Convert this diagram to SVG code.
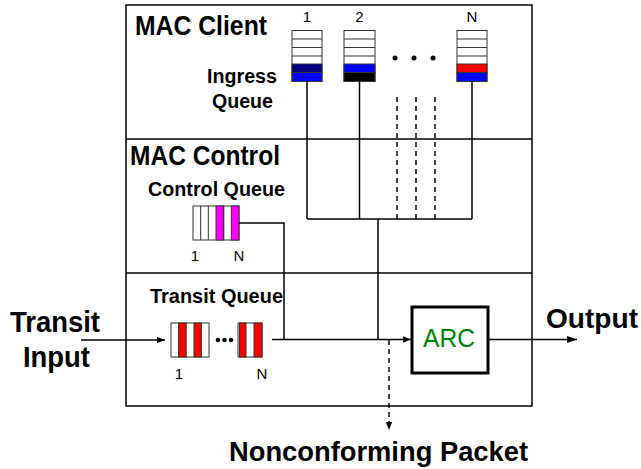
<svg xmlns="http://www.w3.org/2000/svg" width="641" height="469" viewBox="0 0 641 469">
<style>
.ln{stroke:#000;stroke-width:1.5;fill:none}
.ds{stroke:#000;stroke-width:1.5;fill:none;stroke-dasharray:5,4}
.q{stroke:#333;stroke-width:1}
.b{font-family:"Liberation Sans",Arial,sans-serif;font-weight:bold;fill:#000}
.n{font-family:"Liberation Sans",Arial,sans-serif;fill:#000}
</style>
<defs>
<marker id="ah" viewBox="0 0 10 10" refX="10" refY="5" markerWidth="8" markerHeight="8" markerUnits="userSpaceOnUse" orient="auto"><path d="M0,1 L10,5 L0,9 z" fill="#000"/></marker>
<marker id="ahb" viewBox="0 0 10 10" refX="10" refY="5" markerWidth="10" markerHeight="10" markerUnits="userSpaceOnUse" orient="auto"><path d="M0,1.5 L10,5 L0,8.5 z" fill="#000"/></marker>
</defs>
<rect width="641" height="469" fill="#fff"/>

<g id="frame">
<rect x="126" y="5" width="406" height="401" fill="none" stroke="#000" stroke-width="1.5"/>
<line x1="126" y1="139" x2="532" y2="139" class="ln"/>
<line x1="126" y1="273" x2="532" y2="273" class="ln"/>
</g>

<g id="labels">
<text x="135" y="35" class="b" font-size="27.5" textLength="132" lengthAdjust="spacingAndGlyphs">MAC Client</text>
<text x="207" y="83" class="b" font-size="19.5" textLength="70" lengthAdjust="spacingAndGlyphs">Ingress</text>
<text x="212" y="108" class="b" font-size="19.5" textLength="61" lengthAdjust="spacingAndGlyphs">Queue</text>
<text x="130" y="165" class="b" font-size="27.5" textLength="150" lengthAdjust="spacingAndGlyphs">MAC Control</text>
<text x="148" y="196" class="b" font-size="19.5" textLength="137" lengthAdjust="spacingAndGlyphs">Control Queue</text>
<text x="150" y="303" class="b" font-size="19.5" textLength="133" lengthAdjust="spacingAndGlyphs">Transit Queue</text>
</g>

<g id="ingress-queue-1">
<rect x="292" y="30.5" width="30" height="51" fill="#fff" class="q"/>
<rect x="292" y="64" width="30" height="8.5" fill="#000080" class="q"/>
<rect x="292" y="72.5" width="30" height="9" fill="#0000ff" class="q"/>
<path d="M292,39H322M292,47.5H322M292,56H322" class="q"/>
<text x="307" y="22" class="n" font-size="15" text-anchor="middle">1</text>
</g>
<g id="ingress-queue-2">
<rect x="344" y="30.5" width="31" height="51" fill="#fff" class="q"/>
<rect x="344" y="64" width="31" height="8.5" fill="#0000ff" class="q"/>
<rect x="344" y="72.5" width="31" height="9" fill="#000" class="q"/>
<path d="M344,39H375M344,47.5H375M344,56H375" class="q"/>
<text x="359.5" y="22" class="n" font-size="15" text-anchor="middle">2</text>
</g>
<g id="ingress-queue-n">
<rect x="457" y="30.5" width="30" height="51" fill="#fff" class="q"/>
<rect x="457" y="64" width="30" height="8.5" fill="#ff0000" class="q"/>
<rect x="457" y="72.5" width="30" height="9" fill="#0000ff" class="q"/>
<path d="M457,39H487M457,47.5H487M457,56H487" class="q"/>
<text x="472" y="22" class="n" font-size="15" text-anchor="middle">N</text>
</g>
<g id="ellipsis">
<circle cx="395" cy="58" r="2.5" fill="#000"/>
<circle cx="414" cy="58" r="2.5" fill="#000"/>
<circle cx="433" cy="58" r="2.5" fill="#000"/>
</g>

<g id="control-queue">
<rect x="193" y="206" width="46" height="34" fill="#fff" class="q"/>
<rect x="216" y="206" width="7.7" height="34" fill="#ff00ff" class="q"/>
<rect x="231.3" y="206" width="7.7" height="34" fill="#ff00ff" class="q"/>
<path d="M200.7,206V240M208.3,206V240M223.7,206V240" class="q"/>
<text x="195" y="261" class="n" font-size="15" text-anchor="middle">1</text>
<text x="239" y="261" class="n" font-size="15" text-anchor="middle">N</text>
</g>

<g id="transit-queue-1">
<rect x="171" y="323" width="38" height="34" fill="#fff" class="q"/>
<rect x="178.6" y="323" width="7.6" height="34" fill="#ff0000" class="q"/>
<rect x="194" y="323" width="7.4" height="34" fill="#ff0000" class="q"/>
<text x="179" y="379" class="n" font-size="15" text-anchor="middle">1</text>
</g>
<g id="transit-dots">
<circle cx="218" cy="340" r="2.3" fill="#000"/>
<circle cx="224.5" cy="340" r="2.3" fill="#000"/>
<circle cx="231" cy="340" r="2.3" fill="#000"/>
</g>
<g id="transit-queue-n">
<rect x="238" y="323" width="24" height="34" fill="#fff" class="q"/>
<rect x="239.5" y="323" width="6.5" height="34" fill="#ff0000" class="q"/>
<rect x="254" y="323" width="8" height="34" fill="#ff0000" class="q"/>
<text x="262" y="379" class="n" font-size="15" text-anchor="middle">N</text>
</g>

<g id="arc">
<rect x="412" y="307" width="76" height="66" fill="#fff" stroke="#000" stroke-width="3"/>
<text x="423" y="347" class="n" font-size="26" style="fill:#008000" textLength="52" lengthAdjust="spacingAndGlyphs">ARC</text>
</g>

<g id="io-labels">
<text x="10" y="332" class="b" font-size="30" textLength="90" lengthAdjust="spacingAndGlyphs">Transit</text>
<text x="23" y="367" class="b" font-size="30" textLength="67" lengthAdjust="spacingAndGlyphs">Input</text>
<text x="546" y="328" class="b" font-size="28" textLength="92" lengthAdjust="spacingAndGlyphs">Output</text>
<text x="229" y="461" class="b" font-size="27" textLength="299" lengthAdjust="spacingAndGlyphs">Nonconforming Packet</text>
</g>

<g id="connectors">
<line x1="307" y1="81.5" x2="307" y2="219" class="ln"/>
<line x1="359.5" y1="81.5" x2="359.5" y2="219" class="ln"/>
<line x1="472" y1="81.5" x2="472" y2="219" class="ln"/>
<line x1="397" y1="97" x2="397" y2="219" class="ds"/>
<line x1="416" y1="97" x2="416" y2="219" class="ds"/>
<line x1="435" y1="97" x2="435" y2="219" class="ds"/>
<line x1="307" y1="219" x2="472" y2="219" class="ln"/>
<line x1="378" y1="219" x2="378" y2="339.5" class="ln"/>
<polyline points="239,223 284,223 284,339.5" class="ln"/>
<line x1="81" y1="340" x2="165" y2="340" class="ln" marker-end="url(#ah)"/>
<line x1="272" y1="339.5" x2="411" y2="339.5" class="ln" marker-end="url(#ah)"/>
<line x1="488" y1="339.5" x2="577" y2="339.5" class="ln" marker-end="url(#ahb)"/>
<line x1="389" y1="340" x2="389" y2="430" class="ds" marker-end="url(#ah)"/>
</g>
</svg>
